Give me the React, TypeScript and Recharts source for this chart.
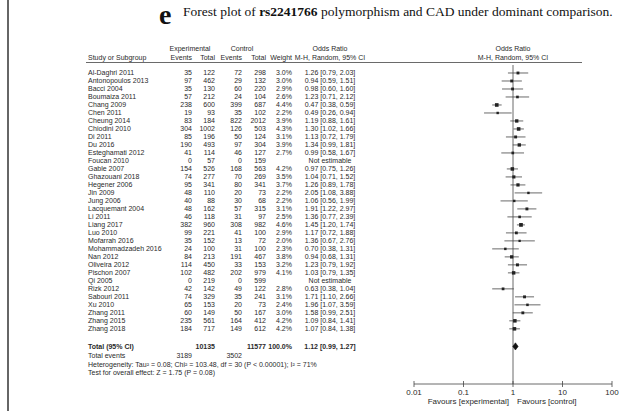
import React from 'react';
import { ScatterChart, Scatter, XAxis, YAxis, ErrorBar, ReferenceLine } from 'recharts';

const studies = ['Al-Daghri 2011','Antonopoulos 2013','Bacci 2004','Boumaiza 2011','Chang 2009','Chen 2011','Cheung 2014','Chiodini 2010','Di 2011','Du 2016','Esteghamati 2012','Foucan 2010','Gable 2007','Ghazouani 2018','Hegener 2006','Jin 2009','Jung 2006','Lacquemant 2004','Li 2011','Liang 2017','Luo 2010','Mofarrah 2016','Mohammadzadeh 2016','Nan 2012','Oliveira 2012','Pischon 2007','Qi 2005','Rizk 2012','Sabouri 2011','Xu 2010','Zhang 2011','Zhang 2015','Zhang 2018'];
const expEvents = [35,97,35,57,238,19,83,304,85,190,41,0,154,74,95,48,40,48,46,382,99,35,24,84,114,102,0,42,74,65,60,235,184];
const expTotal = [122,462,130,212,600,93,184,1002,196,493,114,57,526,277,341,110,88,162,118,960,221,152,100,213,450,482,219,142,329,153,149,561,717];
const ctrlEvents = [72,29,60,24,399,35,822,126,50,97,46,0,168,70,80,20,30,57,31,308,41,13,31,191,33,202,0,49,35,20,50,164,149];
const ctrlTotal = [298,132,220,104,687,102,2012,503,124,304,127,159,563,269,341,73,68,315,97,982,100,72,100,467,153,979,599,122,241,73,167,412,612];
const weights: (number | null)[] = [3.0,3.0,2.9,2.6,4.4,2.2,3.9,4.3,3.1,3.9,2.7,null,4.2,3.5,3.7,2.2,2.2,3.1,2.5,4.6,2.9,2.0,2.3,3.8,3.2,4.1,null,2.8,3.1,2.4,3.0,4.2,4.2];
const oddsRatio: (number | null)[] = [1.26,0.94,0.98,1.23,0.47,0.49,1.19,1.30,1.13,1.34,0.99,null,0.97,1.04,1.26,2.05,1.06,1.91,1.36,1.45,1.17,1.36,0.70,0.94,1.23,1.03,null,0.63,1.71,1.96,1.58,1.09,1.07];
const ciLow: (number | null)[] = [0.79,0.59,0.60,0.71,0.38,0.26,0.88,1.02,0.72,0.99,0.58,null,0.75,0.71,0.89,1.08,0.56,1.22,0.77,1.20,0.72,0.67,0.38,0.68,0.79,0.79,null,0.38,1.10,1.07,0.99,0.84,0.84];
const ciHigh: (number | null)[] = [2.03,1.51,1.60,2.12,0.59,0.94,1.61,1.66,1.79,1.81,1.67,null,1.26,1.52,1.78,3.88,1.99,2.97,2.39,1.74,1.88,2.76,1.31,1.31,1.92,1.35,null,1.04,2.66,3.59,2.51,1.41,1.38];

const totalExp = 10135;
const totalCtrl = 11577;
const totalEventsExp = 3189;
const totalEventsCtrl = 3502;
const pooled = { or: 1.12, lo: 0.99, hi: 1.27 };
const heterogeneityText = 'Heterogeneity: Tau\u00B2 = 0.08; Chi\u00B2 = 103.48, df = 30 (P < 0.00001); I\u00B2 = 71%';
const overallText = 'Test for overall effect: Z = 1.75 (P = 0.08)';
const xTicks = [0.01, 0.1, 1, 10, 100];

const TOTAL_ROW = 34.2;
const EVENTS_ROW = 35.3;
const HET_ROW = 36.4;
const TEST_ROW = 37.4;

const studyPoints = studies
  .map((s, i) => ({ i, or: oddsRatio[i], lo: ciLow[i], hi: ciHigh[i], w: weights[i] }))
  .filter((d) => d.or != null)
  .map((d) => ({ x: d.or as number, y: d.i, w: d.w as number, err: [(d.or as number) - (d.lo as number), (d.hi as number) - (d.or as number)] }));

const diamond = [
  { x: pooled.lo, y: TOTAL_ROW },
  { x: pooled.or, y: TOTAL_ROW - 0.45 },
  { x: pooled.hi, y: TOTAL_ROW },
  { x: pooled.or, y: TOTAL_ROW + 0.45 },
  { x: pooled.lo, y: TOTAL_ROW },
];

const rowTicks = [...studies.map((_, i) => i), TOTAL_ROW, EVENTS_ROW, HET_ROW, TEST_ROW];

const FONT = '"Liberation Sans", Arial, sans-serif';
const SERIF = '"Liberation Serif", "Times New Roman", serif';
const TXT = '#2a2a2a';
const COL = { name: 88, ee: 192, et: 215, ce: 242, ct: 266, w: 292, orc: 330 };

const fmt = (v: number) => v.toFixed(2);

const YTick = (props: any) => {
  const { y, payload } = props;
  const v = payload.value;
  const common = { y: y, dy: 2.5, fontSize: 7, fontFamily: FONT, fill: TXT } as any;
  if (Number.isInteger(v) && v < studies.length) {
    const i = v;
    const orTxt = oddsRatio[i] == null ? 'Not estimable' : `${fmt(oddsRatio[i] as number)} [${fmt(ciLow[i] as number)}, ${fmt(ciHigh[i] as number)}]`;
    return (
      <g>
        <text {...common} x={COL.name} textAnchor="start">{studies[i]}</text>
        <text {...common} x={COL.ee} textAnchor="end">{expEvents[i]}</text>
        <text {...common} x={COL.et} textAnchor="end">{expTotal[i]}</text>
        <text {...common} x={COL.ce} textAnchor="end">{ctrlEvents[i]}</text>
        <text {...common} x={COL.ct} textAnchor="end">{ctrlTotal[i]}</text>
        {weights[i] != null && <text {...common} x={COL.w} textAnchor="end">{(weights[i] as number).toFixed(1)}%</text>}
        <text {...common} x={COL.orc} textAnchor="middle">{orTxt}</text>
      </g>
    );
  }
  if (v === TOTAL_ROW) {
    return (
      <g fontWeight="bold">
        <text {...common} x={COL.name} textAnchor="start">Total (95% CI)</text>
        <text {...common} x={COL.et} textAnchor="end">{totalExp}</text>
        <text {...common} x={COL.ct} textAnchor="end">{totalCtrl}</text>
        <text {...common} x={COL.w} textAnchor="end">100.0%</text>
        <text {...common} x={COL.orc} textAnchor="middle">{`${fmt(pooled.or)} [${fmt(pooled.lo)}, ${fmt(pooled.hi)}]`}</text>
      </g>
    );
  }
  if (v === EVENTS_ROW) {
    return (
      <g>
        <text {...common} x={COL.name} textAnchor="start">Total events</text>
        <text {...common} x={COL.ee} textAnchor="end">{totalEventsExp}</text>
        <text {...common} x={COL.ce} textAnchor="end">{totalEventsCtrl}</text>
      </g>
    );
  }
  if (v === HET_ROW) {
    return <text {...common} x={COL.name} textAnchor="start">{heterogeneityText}</text>;
  }
  if (v === TEST_ROW) {
    return <text {...common} x={COL.name} textAnchor="start">{overallText}</text>;
  }
  return null;
};

const XTick = (props: any) => {
  const { x, y, payload } = props;
  const v = payload.value;
  return (
    <g>
      <line x1={x} x2={x} y1={y - 3} y2={y + 3} stroke="#444" strokeWidth={0.8} />
      <text x={x} y={y + 10.5} textAnchor="middle" fontSize={8} fontFamily={FONT} fill={TXT}>{String(v)}</text>
      {v === 1 && (
        <g>
          <text x={x - 4} y={y + 19.5} textAnchor="end" fontSize={8} fontFamily={FONT} fill={TXT}>Favours [experimental]</text>
          <text x={x + 4} y={y + 19.5} textAnchor="start" fontSize={8} fontFamily={FONT} fill={TXT}>Favours [control]</text>
        </g>
      )}
    </g>
  );
};

const Square = (props: any) => {
  const { cx, cy, payload } = props;
  const s = 1.2 + payload.w * 0.55;
  return <rect x={cx - s / 2} y={cy - s / 2} width={s} height={s} fill="#222" />;
};

const Nothing = () => <g />;

export default function App() {
  const hdr = { fontSize: 7, fontFamily: FONT, fill: TXT } as any;
  return (
    <div style={{ position: 'absolute', left: 0, top: 0, width: 621, height: 411, background: '#fff' }}>
      <ScatterChart width={621} height={411} margin={{ top: 65, right: 9, bottom: 7, left: 0 }}>
        <XAxis
          type="number"
          dataKey="x"
          scale="log"
          domain={[0.01, 100]}
          ticks={xTicks}
          allowDataOverflow
          height={20}
          tickSize={0}
          tickMargin={0}
          tickLine={false}
          axisLine={{ stroke: '#444', strokeWidth: 0.8 }}
          tick={<XTick />}
          interval={0}
        />
        <YAxis
          type="number"
          dataKey="y"
          domain={[-1, 38.9]}
          reversed
          allowDataOverflow
          ticks={rowTicks}
          interval={0}
          width={414}
          axisLine={false}
          tickLine={false}
          tick={<YTick />}
        />
        <ReferenceLine x={1} stroke="#444" strokeWidth={0.8} />
        <Scatter data={studyPoints} shape={<Square />} isAnimationActive={false}>
          <ErrorBar dataKey="err" direction="x" width={0} stroke="#444" strokeWidth={0.8} isAnimationActive={false} />
        </Scatter>
        <Scatter
          data={diamond}
          shape={<Nothing />}
          line={{ stroke: '#111', strokeWidth: 0.6, fill: '#111' }}
          lineType="joint"
          isAnimationActive={false}
        />
      </ScatterChart>
      <svg width={621} height={411} style={{ position: 'absolute', left: 0, top: 0, pointerEvents: 'none' }}>
        <line x1={8} x2={8} y1={0} y2={411} stroke="#333" strokeWidth={1.5} />
        <text x={159} y={24} fontSize={28} fontWeight="bold" fontFamily={SERIF} fill="#111">e</text>
        <text x={183} y={16} fontSize={13.5} fontFamily={SERIF} fill="#111">
          Forest plot of <tspan fontWeight="bold">rs2241766</tspan> polymorphism and CAD under dominant comparison.
        </text>
        <text {...hdr} x={190} y={51} textAnchor="middle">Experimental</text>
        <text {...hdr} x={242} y={51} textAnchor="middle">Control</text>
        <text {...hdr} x={COL.orc} y={51} textAnchor="middle">Odds Ratio</text>
        <text {...hdr} x={513} y={51} textAnchor="middle">Odds Ratio</text>
        <text {...hdr} x={88} y={60} textAnchor="start">Study or Subgroup</text>
        <text {...hdr} x={192} y={60} textAnchor="end">Events</text>
        <text {...hdr} x={215} y={60} textAnchor="end">Total</text>
        <text {...hdr} x={242} y={60} textAnchor="end">Events</text>
        <text {...hdr} x={266} y={60} textAnchor="end">Total</text>
        <text {...hdr} x={COL.w} y={60} textAnchor="end">Weight</text>
        <text {...hdr} x={COL.orc} y={60} textAnchor="middle">M-H, Random, 95% CI</text>
        <text {...hdr} x={513} y={60} textAnchor="middle">M-H, Random, 95% CI</text>
        <line x1={86} x2={582} y1={62.5} y2={62.5} stroke="#444" strokeWidth={0.8} />
      </svg>
    </div>
  );
}
